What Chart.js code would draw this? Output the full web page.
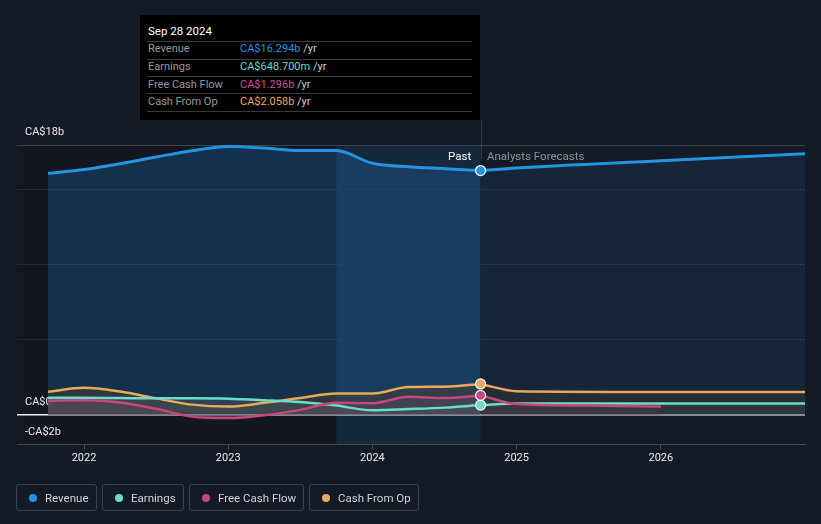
<!DOCTYPE html>
<html>
<head>
<meta charset="utf-8">
<script src="https://cdn.jsdelivr.net/npm/chart.js@4/dist/chart.umd.min.js"></script>
<style>
  html,body{margin:0;padding:0;background:#151b26;width:821px;height:524px;overflow:hidden;font-family:Roboto,"Noto Sans",sans-serif;}
  #wrap{position:relative;width:821px;height:524px;}
  canvas{position:absolute;left:0;top:0;}
  #tip{position:absolute;left:140px;top:15px;width:340px;height:105px;background:#000;color:#fff;font-size:11px;}
  #tip .title{position:absolute;left:8px;top:9px;font-size:11.5px;color:#fff;}
  #tip .sep{position:absolute;left:7px;width:325px;height:1px;background:#3a3a3a;}
  #tip .row{position:absolute;left:8px;height:14px;line-height:14px;}
  #tip .lab{position:absolute;left:0;color:#9a9a9a;white-space:nowrap;}
  #tip .val{position:absolute;left:92px;white-space:nowrap;}
  #tip .yr{color:#cfcfcf;}
  .ann{position:absolute;font-size:11.5px;white-space:nowrap;line-height:14px;}
  #legend{position:absolute;left:16px;top:484px;display:flex;gap:5px;}
  .lg{box-sizing:border-box;height:27px;border:1px solid #3b414b;border-radius:3px;display:flex;align-items:center;padding-left:12px;font-size:11.5px;color:#cfd2d6;}
  .lg i{display:inline-block;width:8px;height:8px;border-radius:50%;margin-right:8px;}
</style>
</head>
<body>
<div id="wrap">
  <canvas id="c" width="821" height="524"></canvas>
  <div id="tip">
    <div class="title">Sep 28 2024</div>
    <div class="sep" style="top:26px"></div>
    <div class="row" style="top:27px"><span class="lab">Revenue</span><span class="val" style="color:#2394df">CA$16.294b <span class="yr">/yr</span></span></div>
    <div class="sep" style="top:44px"></div>
    <div class="row" style="top:45px"><span class="lab">Earnings</span><span class="val" style="color:#6cdccb">CA$648.700m <span class="yr">/yr</span></span></div>
    <div class="sep" style="top:61px"></div>
    <div class="row" style="top:63px"><span class="lab">Free Cash Flow</span><span class="val" style="color:#d1508b">CA$1.296b <span class="yr">/yr</span></span></div>
    <div class="sep" style="top:78px"></div>
    <div class="row" style="top:80px"><span class="lab">Cash From Op</span><span class="val" style="color:#e8a95a">CA$2.058b <span class="yr">/yr</span></span></div>
    <div class="sep" style="top:96px"></div>
  </div>
  <div class="ann" style="left:448px;top:149px;color:#ffffff">Past</div>
  <div class="ann" style="left:487px;top:149px;color:#8b9096">Analysts Forecasts</div>
  <div id="legend">
    <div class="lg" style="width:81px"><i style="background:#2394df"></i>Revenue</div>
    <div class="lg" style="width:82px"><i style="background:#6cdccb"></i>Earnings</div>
    <div class="lg" style="width:115px"><i style="background:#c8457f"></i>Free Cash Flow</div>
    <div class="lg" style="width:110px"><i style="background:#e8a95a"></i>Cash From Op</div>
  </div>
</div>
<script>
// ---- data (CA$ billions) ----
const pastYears      = [2021.75, 2022.0, 2022.25, 2022.5, 2022.75, 2023.0, 2023.25, 2023.5, 2023.75, 2024.0, 2024.25, 2024.5, 2024.75];
const revenuePast    = [16.11, 16.36, 16.75, 17.2, 17.62, 17.9, 17.8, 17.63, 17.63, 16.78, 16.55, 16.42, 16.294];
const earningsPast   = [1.14, 1.14, 1.12, 1.1, 1.1, 1.08, 0.98, 0.85, 0.62, 0.3, 0.38, 0.48, 0.6487];
const fcfPast        = [0.94, 0.98, 0.82, 0.4, -0.12, -0.22, -0.03, 0.33, 0.8, 0.78, 1.2, 1.12, 1.296];
const cashOpPast     = [1.54, 1.8, 1.55, 1.1, 0.68, 0.55, 0.8, 1.12, 1.42, 1.42, 1.85, 1.87, 2.058];

const forecastYears    = [2024.75, 2025.0, 2026.0, 2027.0];
const revenueForecast  = [16.294, 16.47, 16.95, 17.42];
const earningsForecast = [0.6487, 0.76, 0.76, 0.76];
const cashOpForecast   = [2.058, 1.58, 1.53, 1.52];
const fcfForecastYears = [2024.75, 2025.0, 2025.5, 2026.0];
const fcfForecast      = [1.296, 0.72, 0.62, 0.55];

const yTicks = [-2, 0, 5, 10, 15, 18];
const yLabels = {18: 'CA$18b', 0: 'CA$0', '-2': '-CA$2b'};
const xTicks = [2022, 2023, 2024, 2025, 2026];
const highlightStart = 2023.75, nowYear = 2024.75;

const toPts = (xs, ys) => xs.map((x, i) => ({x, y: ys[i]}));

const COL = {rev:'#2394df', earn:'#6cdccb', fcf:'#c8457f', cash:'#e8a95a'};

function ds(label, xs, ys, color, fillColor, order, width, marker) {
  const n = xs.length;
  return {
    label, data: toPts(xs, ys), borderColor: color, borderWidth: width,
    backgroundColor: fillColor, fill: 'origin', order,
    cubicInterpolationMode: 'monotone', tension: 0.4,
    pointRadius: ctx => (marker && ctx.dataIndex === n - 1) ? 5 : 0,
    pointBackgroundColor: color, pointBorderColor: '#ffffff', pointBorderWidth: 1.2,
    pointHoverRadius: 0
  };
}

const bandPlugin = {
  id: 'band',
  beforeDraw(chart) {
    const {ctx, chartArea: a, scales: {x}} = chart;
    const x1 = x.getPixelForValue(highlightStart), x2 = x.getPixelForValue(nowYear);
    ctx.save();
    ctx.fillStyle = 'rgba(0,0,0,0.14)';
    ctx.fillRect(a.left, a.top, x1 - a.left, a.bottom - a.top);
    ctx.fillStyle = 'rgba(33,150,243,0.11)';
    ctx.fillRect(x1, a.top, x2 - x1, a.bottom - a.top);
    ctx.restore();
  },
  afterDatasetsDraw(chart) {
    const {ctx, chartArea: a, scales: {x}} = chart;
    const x2 = Math.round(x.getPixelForValue(nowYear)) + 0.5;
    ctx.save();
    ctx.strokeStyle = 'rgba(120,150,180,0.25)';
    ctx.lineWidth = 1;
    ctx.beginPath(); ctx.moveTo(x2, 120); ctx.lineTo(x2, a.top + 14); ctx.stroke();
    ctx.restore();
  }
};

new Chart(document.getElementById('c'), {
  type: 'line',
  data: {
    datasets: [
      ds('Free Cash Flow', pastYears, fcfPast, COL.fcf, 'rgba(92,72,92,0.45)', 2, 2.5, true),
      ds('Free Cash Flow forecast', fcfForecastYears, fcfForecast, COL.fcf, 'rgba(70,60,70,0.4)', 2, 2.5, false),
      ds('Earnings', pastYears, earningsPast, COL.earn, 'rgba(75,88,98,0.45)', 3, 2.5, true),
      ds('Earnings forecast', forecastYears, earningsForecast, COL.earn, 'rgba(60,68,74,0.4)', 3, 2.5, false),
      ds('Cash From Op', pastYears, cashOpPast, COL.cash, 'rgba(72,64,46,0.5)', 4, 2.5, true),
      ds('Cash From Op forecast', forecastYears, cashOpForecast, COL.cash, 'rgba(58,54,46,0.45)', 4, 2.5, false),
      ds('Revenue', pastYears, revenuePast, COL.rev, 'rgba(33,150,243,0.2)', 5, 3, true),
      ds('Revenue forecast', forecastYears, revenueForecast, COL.rev, 'rgba(33,150,243,0.09)', 5, 3, false)
    ]
  },
  options: {
    responsive: false, maintainAspectRatio: false, animation: false, devicePixelRatio: 1,
    layout: {padding: {left: 1, right: 16, top: 145, bottom: 57}},
    plugins: {legend: {display: false}, tooltip: {enabled: false}, filler: {drawTime: 'beforeDatasetsDraw'}},
    events: [],
    scales: {
      x: {
        type: 'linear', min: 2021.535, max: 2027.0,
        afterBuildTicks: s => { s.ticks = xTicks.map(v => ({value: v})); },
        ticks: {color: '#e6e8ea', font: {family: 'Roboto', size: 11}, padding: 2, maxRotation: 0,
                callback: v => String(v)},
        grid: {drawOnChartArea: false, drawTicks: true, tickLength: 5, color: '#444a54'},
        border: {display: true, color: '#444a54', width: 1}
      },
      y: {
        type: 'linear', min: -2, max: 18,
        afterBuildTicks: s => { s.ticks = yTicks.map(v => ({value: v})); },
        ticks: {mirror: true, padding: 8, labelOffset: -13, color: '#e6e8ea',
                font: {family: 'Roboto', size: 11},
                callback: v => (yLabels[v] !== undefined ? yLabels[v] : '')},
        grid: {
          drawTicks: false,
          color: c => c.tick && c.tick.value === 0 ? '#f2f2f2' : (c.tick && c.tick.value === 18 ? '#3d434c' : (c.tick && c.tick.value === -2 ? 'rgba(0,0,0,0)' : '#252c37')),
          lineWidth: c => c.tick && c.tick.value === 0 ? 1.5 : 1
        },
        border: {display: false}
      }
    }
  },
  plugins: [bandPlugin]
});
</script>
</body>
</html>
